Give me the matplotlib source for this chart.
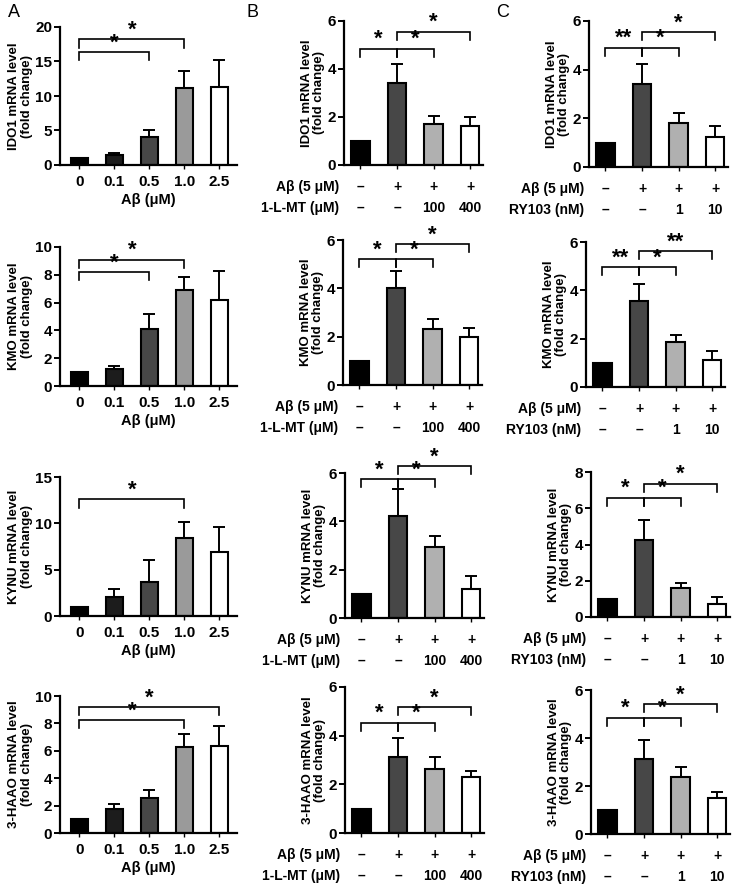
import matplotlib
matplotlib.use('Agg')
import matplotlib.pyplot as plt
from matplotlib.transforms import blended_transform_factory, ScaledTranslation

plt.rcParams['font.family'] = ['Liberation Sans', 'DejaVu Sans']
plt.rcParams['font.weight'] = 'bold'

W, H = 742, 888
DPI = 100

# ---------------- data ----------------
dose_labels = ['0', '0.1', '0.5', '1.0', '2.5']
genes = ['IDO1', 'KMO', 'KYNU', '3-HAAO']

# Column A: dose response
a_ido1 = [1.0, 1.4, 4.1, 11.1, 11.3]
a_ido1_err = [0.0, 0.3, 1.0, 2.5, 3.9]
a_kmo = [1.0, 1.25, 4.1, 6.9, 6.2]
a_kmo_err = [0.0, 0.2, 1.1, 0.95, 2.05]
a_kynu = [1.0, 2.05, 3.65, 8.4, 6.9]
a_kynu_err = [0.0, 0.85, 2.35, 1.7, 2.7]
a_haao = [1.0, 1.75, 2.55, 6.25, 6.35]
a_haao_err = [0.0, 0.4, 0.6, 1.0, 1.45]

# Column B: 1-L-MT
b_ido1 = [1.0, 3.4, 1.7, 1.62]
b_ido1_err = [0.0, 0.8, 0.35, 0.38]
b_kmo = [1.0, 4.0, 2.3, 1.97]
b_kmo_err = [0.0, 0.7, 0.45, 0.4]
b_kynu = [1.0, 4.23, 2.94, 1.19]
b_kynu_err = [0.0, 1.1, 0.46, 0.53]
b_haao = [1.0, 3.11, 2.65, 2.29]
b_haao_err = [0.0, 0.78, 0.46, 0.27]

# Column C: RY103
c_ido1 = [1.0, 3.42, 1.82, 1.22]
c_ido1_err = [0.0, 0.83, 0.41, 0.45]
c_kmo = [1.0, 3.56, 1.85, 1.13]
c_kmo_err = [0.0, 0.72, 0.29, 0.35]
c_kynu = [1.0, 4.23, 1.62, 0.7]
c_kynu_err = [0.0, 1.1, 0.25, 0.4]
c_haao = [1.0, 3.11, 2.36, 1.49]
c_haao_err = [0.0, 0.81, 0.42, 0.25]

# y-axis limits / ticks
a_ymax = [20, 10, 15, 10]
a_ystep = [5, 2, 5, 2]
b_ymax = [6, 6, 6, 6]
c_ymax = [6, 6, 8, 6]

# significance brackets: (x1, x2, y, label)
a_sig = [
    [(0, 2, 16.4, '*'), (0, 3, 18.2, '*')],
    [(0, 2, 8.2, '*'), (0, 3, 9.1, '*')],
    [(0, 3, 12.6, '*')],
    [(0, 3, 8.25, '*'), (0, 4, 9.2, '*')],
]
b_sig = [
    [(0, 1, 4.85, '*'), (1, 2, 4.85, '*'), (1, 3, 5.55, '*')],
    [(0, 1, 5.2, '*'), (1, 2, 5.2, '*'), (1, 3, 5.83, '*')],
    [(0, 1, 5.75, '*'), (1, 2, 5.75, '*'), (1, 3, 6.28, '*')],
    [(0, 1, 4.53, '*'), (1, 2, 4.53, '*'), (1, 3, 5.16, '*')],
]
c_sig = [
    [(0, 1, 4.9, '**'), (1, 2, 4.9, '*'), (1, 3, 5.55, '*')],
    [(0, 1, 4.97, '**'), (1, 2, 4.97, '*'), (1, 3, 5.63, '**')],
    [(0, 1, 6.58, '*'), (1, 2, 6.58, '*'), (1, 3, 7.35, '*')],
    [(0, 1, 4.85, '*'), (1, 2, 4.85, '*'), (1, 3, 5.4, '*')],
]

abeta_row = ['–', '+', '+', '+']
lmt_row = ['–', '–', '100', '400']
ry_row = ['–', '–', '1', '10']

# ---------------- styling ----------------
a_colors = ['#000000', '#1c1c1c', '#474747', '#9a9a9a', '#ffffff']
bc_colors = ['#000000', '#474747', '#b0b0b0', '#ffffff']

# axes boxes in pixels: (left, top, right, bottom)
a_boxes = [(60, 27, 237, 165), (60, 247, 237, 386), (60, 477, 237, 616), (60, 696, 237, 833)]
b_boxes = [(344, 21, 483, 165), (343, 240, 482, 385), (345, 473, 484, 618), (345, 687, 484, 833)]
c_boxes = [(589, 21, 728, 167), (586, 242, 725, 387), (591, 472, 730, 617), (591, 690, 730, 834)]

fig = plt.figure(figsize=(W / DPI, H / DPI), dpi=DPI)


def make_ax(box):
    l, t, r, b = box
    return fig.add_axes([l / W, 1 - b / H, (r - l) / W, (b - t) / H])


def style_ax(ax, ymax, ystep):
    for s in ['top', 'right']:
        ax.spines[s].set_visible(False)
    for s in ['left', 'bottom']:
        ax.spines[s].set_linewidth(1.6)
    ax.set_ylim(0, ymax)
    ax.set_yticks(list(range(0, ymax + 1, ystep)))
    ax.tick_params(axis='y', length=4, width=1.4, pad=1.5, labelsize=11)
    ax.tick_params(axis='x', length=3, width=1.0, pad=4, labelsize=11)
    for lab in ax.get_yticklabels():
        lab.set_fontweight('bold')


def draw_bars(ax, vals, errs, colors, width=0.5):
    x = list(range(len(vals)))
    ax.bar(x, vals, width=width, color=colors, edgecolor='black', linewidth=1.5, zorder=2)
    for xi, v, e in zip(x, vals, errs):
        if e > 0:
            ax.errorbar([xi], [v], yerr=[[0], [e]], fmt='none', ecolor='black',
                        elinewidth=1.4, capsize=4.3, capthick=1.4, zorder=1)


def draw_sig(ax, sigs, ymax, leg=0.055):
    L = leg * ymax
    for x1, x2, y, lab in sigs:
        ax.plot([x1, x1, x2, x2], [y - L, y, y, y - L], color='black', lw=1.2,
                clip_on=False, solid_joinstyle='miter')
        ax.annotate(lab, xy=((x1 + x2) / 2, y), xytext=(0, 2.6), textcoords='offset points',
                    ha='center', va='baseline', fontsize=16, fontweight='bold',
                    annotation_clip=False)


def ylabel(ax, gene):
    ax.set_ylabel(f'{gene} mRNA level\n(fold change)', fontsize=9.5, fontweight='bold',
                  labelpad=2, linespacing=1.05)


# ---------- Column A ----------
a_vals = [a_ido1, a_kmo, a_kynu, a_haao]
a_errs = [a_ido1_err, a_kmo_err, a_kynu_err, a_haao_err]
for i in range(4):
    ax = make_ax(a_boxes[i])
    draw_bars(ax, a_vals[i], a_errs[i], a_colors)
    ax.set_xlim(-0.55, 4.5)
    style_ax(ax, a_ymax[i], a_ystep[i])
    ax.set_xticks(range(len(dose_labels)))
    ax.set_xticklabels(dose_labels, fontweight='bold')
    ax.set_xlabel('Aβ (μM)', fontsize=10.5, fontweight='bold', labelpad=3)
    ylabel(ax, genes[i])
    draw_sig(ax, a_sig[i], a_ymax[i], leg=0.06)

# ---------- Columns B and C ----------
def treat_rows(ax, rows, names):
    offs = [22, 43]
    base = blended_transform_factory(ax.transData, ax.transAxes)
    lab_base = ax.transAxes
    for (row, name), off in zip(zip(rows, names), offs):
        tr = base + ScaledTranslation(0, -off / DPI, fig.dpi_scale_trans)
        for xi, s in enumerate(row):
            ax.text(xi, 0, s, transform=tr, ha='center', va='center', fontsize=10,
                    fontweight='bold')
        tr2 = lab_base + ScaledTranslation(-5 / DPI, -off / DPI, fig.dpi_scale_trans)
        ax.text(0, 0, name, transform=tr2, ha='right', va='center', fontsize=10,
                fontweight='bold')


b_vals = [b_ido1, b_kmo, b_kynu, b_haao]
b_errs = [b_ido1_err, b_kmo_err, b_kynu_err, b_haao_err]
c_vals = [c_ido1, c_kmo, c_kynu, c_haao]
c_errs = [c_ido1_err, c_kmo_err, c_kynu_err, c_haao_err]

for i in range(4):
    ax = make_ax(b_boxes[i])
    draw_bars(ax, b_vals[i], b_errs[i], bc_colors)
    ax.set_xlim(-0.45, 3.35)
    style_ax(ax, b_ymax[i], 2)
    ax.set_xticks(range(4))
    ax.set_xticklabels([])
    ylabel(ax, genes[i])
    draw_sig(ax, b_sig[i], b_ymax[i])
    treat_rows(ax, [abeta_row, lmt_row], ['Aβ (5 μM)', '1-L-MT (μM)'])

    ax = make_ax(c_boxes[i])
    draw_bars(ax, c_vals[i], c_errs[i], bc_colors)
    ax.set_xlim(-0.45, 3.35)
    style_ax(ax, c_ymax[i], 2)
    ax.set_xticks(range(4))
    ax.set_xticklabels([])
    ylabel(ax, genes[i])
    draw_sig(ax, c_sig[i], c_ymax[i])
    treat_rows(ax, [abeta_row, ry_row], ['Aβ (5 μM)', 'RY103 (nM)'])

# panel letters
for letter, px in [('A', 8), ('B', 247), ('C', 496)]:
    fig.text(px / W, 1 - 4 / H, letter, ha='left', va='top', fontsize=13, fontweight='normal')

fig.savefig('out.png', dpi=DPI)
